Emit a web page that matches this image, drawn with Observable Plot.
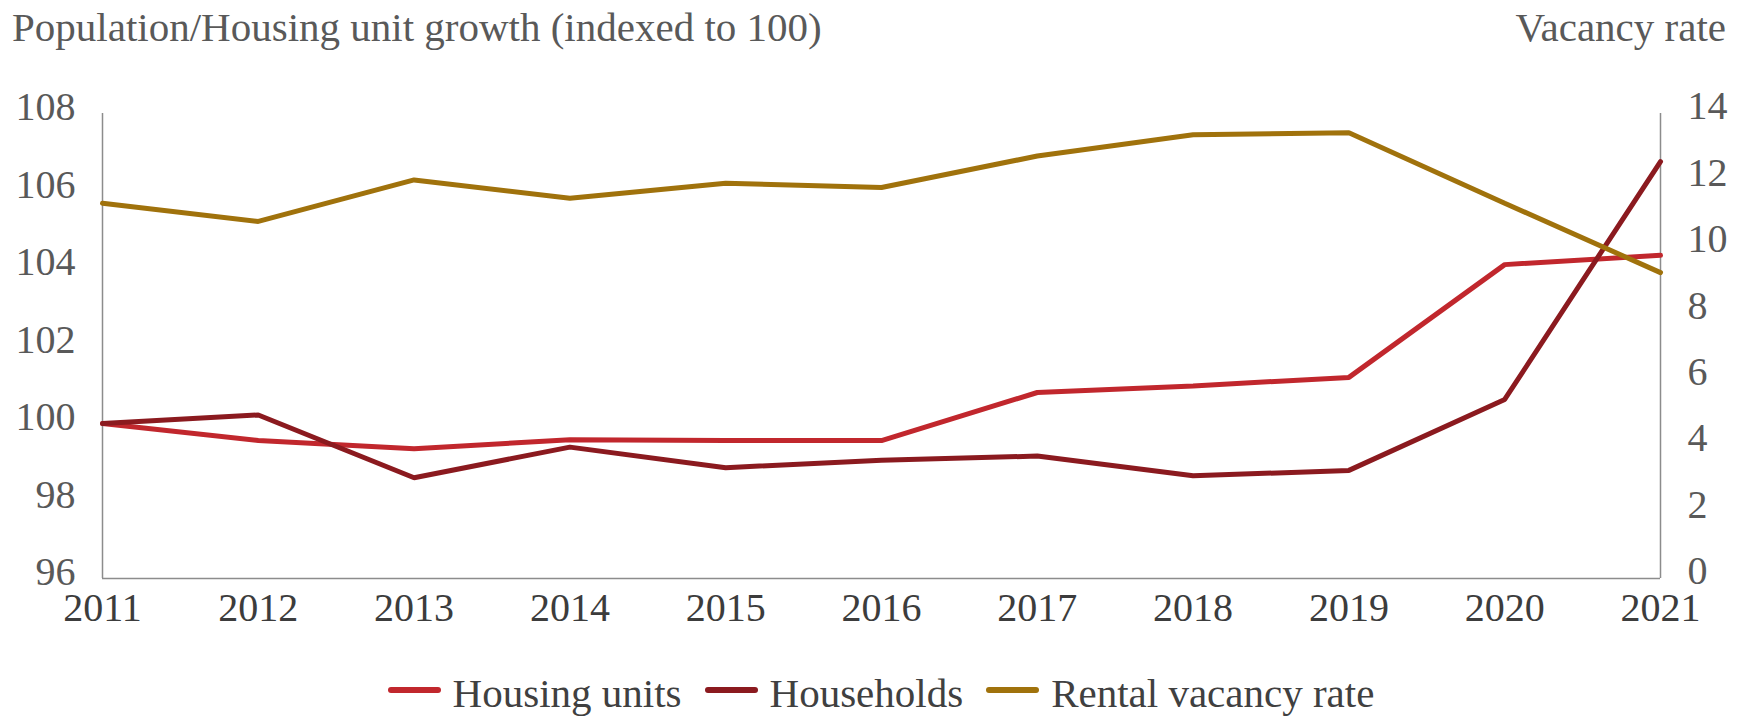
<!DOCTYPE html>
<html>
<head>
<meta charset="utf-8">
<script src="https://cdn.jsdelivr.net/npm/d3@7"></script>
<script src="https://cdn.jsdelivr.net/npm/@observablehq/plot@0.6"></script>
<style>
  html, body { margin: 0; padding: 0; background: #fff; }
  #root { position: relative; width: 1742px; height: 721px; overflow: hidden; font-family: "Liberation Serif", "Times New Roman", serif; }
  .lbl { position: absolute; font-size: 41px; line-height: 41px; color: #595959; white-space: nowrap; }
  #legend { position: absolute; left: 0; width: 1742px; top: 673px; display: flex; justify-content: center; align-items: center; font-size: 41px; line-height: 41px; color: #404040; padding-left: 20px; box-sizing: border-box; }
  .item { display: flex; align-items: center; margin-right: 23px; }
  .item:last-child { margin-right: 0; }
  .sw { width: 53px; height: 6px; border-radius: 3px; margin-right: 12px; margin-top: -8px; }
  #chart { position: absolute; left: 0; top: 80px; }
</style>
</head>
<body>
<div id="root">
  <div class="lbl" id="title" style="left:12px; top:7px;">Population/Housing unit growth (indexed to 100)</div>
  <div class="lbl" id="rtitle" style="right:16px; top:7px;">Vacancy rate</div>
  <div id="chart"></div>
  <div id="legend"></div>
</div>
<script>
const years = [2011, 2012, 2013, 2014, 2015, 2016, 2017, 2018, 2019, 2020, 2021];
const housingUnits = [100.0, 99.56, 99.35, 99.58, 99.56, 99.56, 100.8, 100.97, 101.19, 104.1, 104.34];
const households = [100.0, 100.22, 98.6, 99.39, 98.86, 99.05, 99.16, 98.65, 98.79, 100.62, 106.76];
const vacancyRate = [11.3, 10.75, 12.0, 11.45, 11.9, 11.77, 12.72, 13.36, 13.42, 11.3, 9.21];
const leftTicks = [96, 98, 100, 102, 104, 106, 108];
const rightTicks = [0, 2, 4, 6, 8, 10, 12, 14];
const seriesNames = ["Housing units", "Households", "Rental vacancy rate"];
const seriesColors = ["#c1272d", "#8b1a1f", "#a0720c"];

// map right-axis values onto left-axis scale
const leftDomain = [96, 108];
const rightDomain = [0, 14];
const toLeft = v => leftDomain[0] + (v - rightDomain[0]) * (leftDomain[1] - leftDomain[0]) / (rightDomain[1] - rightDomain[0]);
const toRight = y => rightDomain[0] + (y - leftDomain[0]) * (rightDomain[1] - rightDomain[0]) / (leftDomain[1] - leftDomain[0]);

const rows = [];
years.forEach((yr, i) => {
  rows.push({year: yr, value: housingUnits[i], series: seriesNames[0]});
  rows.push({year: yr, value: households[i], series: seriesNames[1]});
  rows.push({year: yr, value: toLeft(vacancyRate[i]), series: seriesNames[2]});
});

const axisColor = "#8c8c8c";
const chart = Plot.plot({
  width: 1742,
  height: 560,
  marginTop: 33,
  marginBottom: 62,
  marginLeft: 102,
  marginRight: 82,
  style: {fontFamily: "Liberation Serif, Times New Roman, serif", background: "transparent"},
  x: {type: "linear", domain: [2011, 2021]},
  y: {domain: leftDomain},
  color: {domain: seriesNames, range: seriesColors},
  marks: [
    Plot.ruleX([years[0], years[years.length - 1]], {stroke: axisColor, strokeWidth: 1.5}),
    Plot.ruleY([leftDomain[0]], {stroke: axisColor, strokeWidth: 1.5}),
    Plot.axisY(leftTicks, {anchor: "left", tickSize: 0, tickPadding: 27, fontSize: 40, fill: "#595959", dy: -6, label: null}),
    Plot.axisY(rightTicks.map(toLeft), {anchor: "right", tickSize: 0, tickPadding: 27, fontSize: 40, fill: "#595959", dy: -7, label: null, tickFormat: d => String(Math.round(toRight(d)))}),
    Plot.axisX(years, {anchor: "bottom", tickSize: 0, tickPadding: 14, fontSize: 40, fill: "#3c3c3c", label: null, tickFormat: d => String(d)}),
    Plot.line(rows, {x: "year", y: "value", z: "series", stroke: "series", strokeWidth: 5, strokeLinejoin: "miter", strokeLinecap: "round"})
  ]
});
document.getElementById("chart").appendChild(chart);

const legend = document.getElementById("legend");
seriesNames.forEach((name, i) => {
  const item = document.createElement("div");
  item.className = "item";
  const sw = document.createElement("div");
  sw.className = "sw";
  sw.style.background = seriesColors[i];
  const tx = document.createElement("span");
  tx.textContent = name;
  item.appendChild(sw);
  item.appendChild(tx);
  legend.appendChild(item);
});
</script>
</body>
</html>
